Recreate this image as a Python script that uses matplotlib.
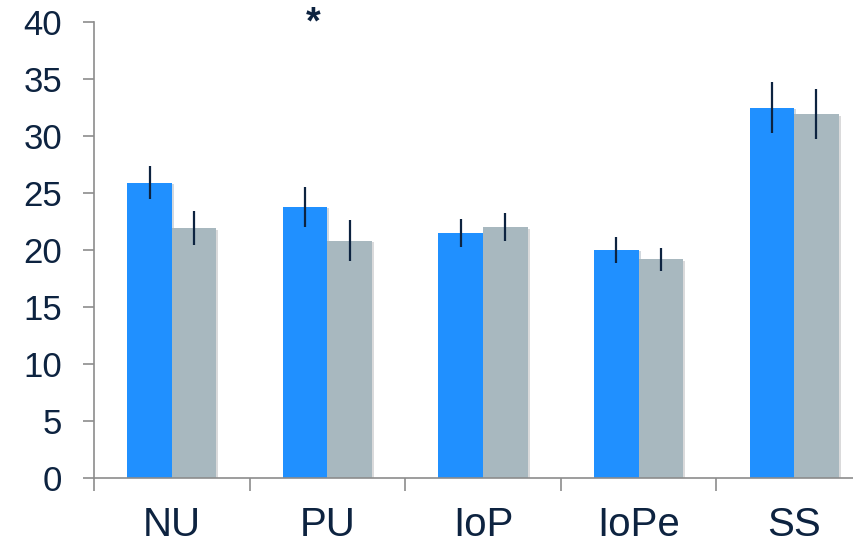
import matplotlib
matplotlib.use("Agg")
import matplotlib.pyplot as plt
import matplotlib.patheffects as pe
import numpy as np

plt.rcParams['font.family'] = ['Liberation Sans', 'DejaVu Sans']

categories = ["NU", "PU", "IoP", "IoPe", "SS"]
blue_vals = [25.9, 23.8, 21.5, 20.0, 32.5]
blue_err = [1.45, 1.75, 1.2, 1.15, 2.25]
gray_vals = [21.9, 20.8, 22.0, 19.2, 31.9]
gray_err = [1.5, 1.8, 1.25, 1.0, 2.2]

BLUE = "#2090FF"
GRAY = "#A8B8BF"
NAVY = "#0D2340"
AXIS = "#8C8C8C"

fig = plt.figure(figsize=(8.54, 5.48), dpi=100)
ax = fig.add_axes([94/854, 70/548, 1 - 94/854, 456/548])

x = np.arange(len(categories))
w = 0.286
shadow = [pe.SimplePatchShadow(offset=(1.5, -1.0), alpha=0.18), pe.Normal()]

b1 = ax.bar(x - w/2, blue_vals, w, color=BLUE, zorder=2)
b2 = ax.bar(x + w/2, gray_vals, w, color=GRAY, zorder=2)
for b in list(b1) + list(b2):
    b.set_path_effects(shadow)

ax.errorbar(x - w/2, blue_vals, yerr=blue_err, fmt="none", ecolor=NAVY,
            elinewidth=1.6, capsize=0, zorder=3)
ax.errorbar(x + w/2, gray_vals, yerr=gray_err, fmt="none", ecolor=NAVY,
            elinewidth=1.6, capsize=0, zorder=3)

# significance mark over PU
ax.text(1 - w/2 + 0.05, 39.9, "*", ha="center", va="center", fontsize=27,
        color=NAVY, fontweight="bold", clip_on=False)

ax.set_yticks(range(0, 41, 5))
ax.set_xticks(x)
ax.set_xticklabels(categories)
ax.set_xticks(np.arange(-0.5, len(categories)), minor=True)
ax.set_ylim(0, 40)
ax.set_xlim(-0.5, (854 - 94) / 155.6 - 0.5)

for s in ["top", "right"]:
    ax.spines[s].set_visible(False)
for s in ["left", "bottom"]:
    ax.spines[s].set_color(AXIS)
    ax.spines[s].set_linewidth(1.2)
ax.spines["left"].set_zorder(1)

ax.tick_params(axis="y", length=8, width=1.2, color=AXIS, labelsize=25,
               labelcolor=NAVY, pad=15)
ax.tick_params(axis="x", which="major", length=0, labelsize=29,
               labelcolor=NAVY, pad=20)
ax.tick_params(axis="x", which="minor", length=9, width=1.2, color=AXIS)

fig.savefig("out.png", dpi=100)
